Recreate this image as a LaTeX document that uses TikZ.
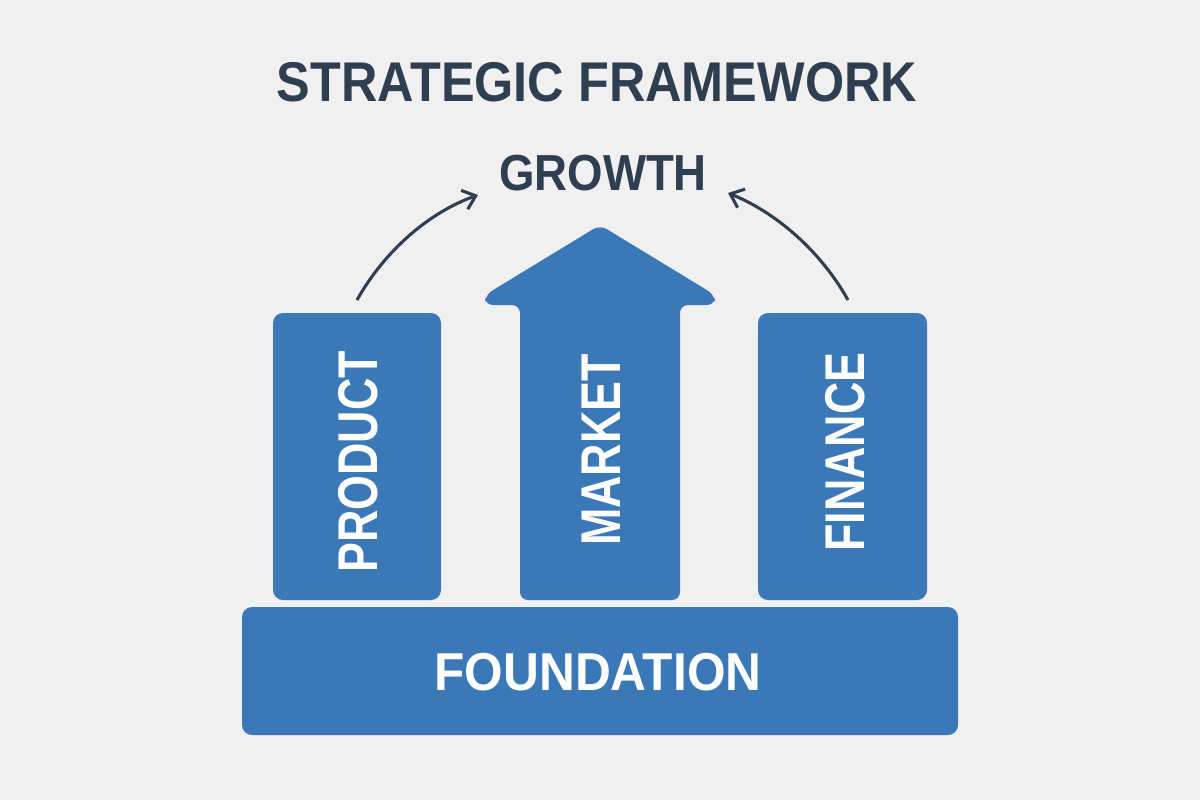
\documentclass[tikz,border=0pt]{standalone}
\usepackage{fontspec}
\usepackage{graphicx}
\setmainfont{Liberation Sans}
\definecolor{bg}{HTML}{F0F0F0}
\definecolor{blu}{HTML}{3A78B8}
\definecolor{ink}{HTML}{2F3E50}
\usetikzlibrary{arrows.meta}
\tikzset{
 blk/.style={fill=blu,draw=none,rounded corners=7.5pt},
 wt/.style={text=white,font=\bfseries,inner sep=0pt},
 dk/.style={text=ink,font=\bfseries,inner sep=0pt},
 cur/.style={draw=ink,line width=2.3pt,-{Straight Barb[length=9pt,width=15pt,line width=2.3pt]}}
}
\begin{document}
\begin{tikzpicture}[x=0.75pt,y=-0.75pt]
\fill[bg] (0,0) rectangle (1200,800);
\useasboundingbox (0,0) rectangle (1200,800);
\node[dk] (title) at (597,82) {\fontsize{42}{42}\selectfont\scalebox{0.9}[1]{STRATEGIC FRAMEWORK}};
\node[dk] (growth) at (603,173) {\fontsize{38}{38}\selectfont\scalebox{0.9}[1]{GROWTH}};
\path[blk] (273,313) rectangle (441,600);
\coordinate (ptop) at (357,300);
\path[blk] (758,313) rectangle (927,600);
\coordinate (ftop) at (848,300);
\path[fill=blu,rounded corners=6pt] (520,600) -- (520,305) -- (485,305) -- (485,295) -- (600,225) -- (715,295) -- (715,305) -- (680,305) -- (680,600) -- cycle;
\path[blk] (242,607) rectangle (958,735);
\node[wt] (found) at (598,672) {\fontsize{40}{40}\selectfont\scalebox{0.93}[1]{FOUNDATION}};
\node[wt,rotate=90] (prod) at (358,462) {\fontsize{42}{42}\selectfont\scalebox{0.8}[1]{PRODUCT}};
\node[wt,rotate=90] (mkt) at (601,450) {\fontsize{42}{42}\selectfont\scalebox{0.8}[1]{MARKET}};
\node[wt,rotate=90] (fin) at (845,452) {\fontsize{42}{42}\selectfont\scalebox{0.8}[1]{FINANCE}};
\draw[cur] (ptop) .. controls (385,250) and (430,212) .. (478,195);
\draw[cur] (ftop) .. controls (820,250) and (775,212) .. (728,193);
\end{tikzpicture}
\end{document}
